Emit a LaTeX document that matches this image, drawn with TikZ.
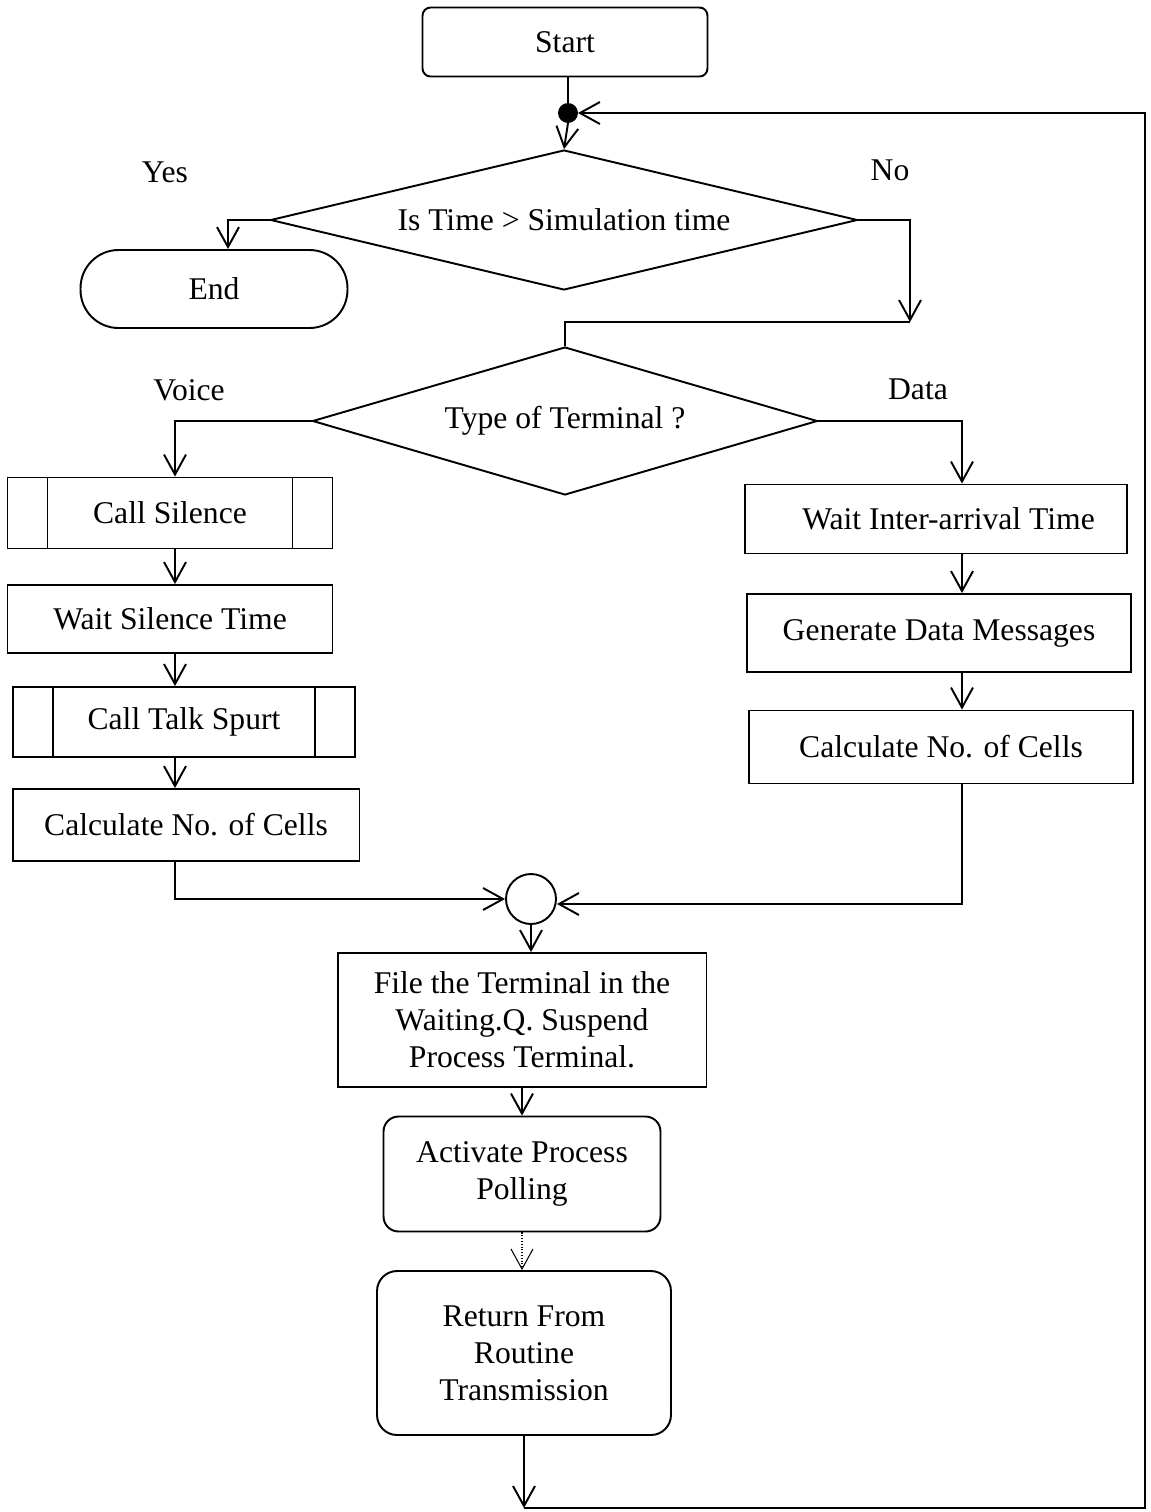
\documentclass[tikz,border=0pt]{standalone}
\usepackage{fontspec}
\setmainfont{Liberation Serif}
\usetikzlibrary{shapes.geometric,arrows.meta,positioning,calc}

\begin{document}
\begin{tikzpicture}[
    x=0.02cm, y=-0.02cm,
    font=\fontsize{18}{21}\selectfont,
    line width=1.1pt,
    box/.style={draw, rectangle, align=center, inner sep=2pt},
    roundbox/.style={box, rounded corners=0.3cm},
    subproc/.style={box, path picture={
        \draw ([xshift=0.8cm]path picture bounding box.north west) -- ([xshift=0.8cm]path picture bounding box.south west);
        \draw ([xshift=-0.8cm]path picture bounding box.north east) -- ([xshift=-0.8cm]path picture bounding box.south east);}},
    decision/.style={draw, diamond, inner sep=0pt, align=center},
    terminal/.style={box, rounded corners=0.76cm},
    junction/.style={circle, draw, inner sep=0pt, minimum size=1cm},
    arr/.style={-{Straight Barb[length=0.4cm, width=0.44cm]}}
]
\useasboundingbox (0,0) rectangle (1151,1512);

\node[roundbox, rounded corners=0.16cm, minimum width=5.7cm, minimum height=1.38cm] (start) at (565,42) {Start};
\node[junction, fill=black, minimum size=0.36cm] (dot) at (568,113) {};
\node[decision, shape aspect=4.19, minimum width=11.74cm, minimum height=2.8cm] (time) at (564,220) {\raisebox{-0.08cm}{Is Time > Simulation time}};
\node[terminal, minimum width=5.34cm, minimum height=1.56cm] (end) at (214,289) {End};
\node[decision, shape aspect=3.41, minimum width=10.1cm, minimum height=2.96cm] (type) at (565,421) {\raisebox{-0.08cm}{Type of Terminal ?}};

% branch labels
\node (yes) at (165,172) {Yes};
\node (no) at (890,170) {No};
\node (voice) at (189,390) {Voice};
\node (data) at (918,389) {Data};

% voice branch
\node[subproc, minimum width=6.5cm, minimum height=1.42cm] (callsil) at (170,513) {Call Silence};
\node[box, minimum width=6.5cm, minimum height=1.36cm] (waitsil) at (170,619) {Wait Silence Time};
\node[subproc, minimum width=6.84cm, minimum height=1.4cm] (calltalk) at (184,722) {Call Talk Spurt};
\node[box, minimum width=6.94cm, minimum height=1.44cm] (calcv) at (186,825) {Calculate No. of Cells};

% data branch
\node[box, minimum width=7.64cm, minimum height=1.38cm] (waitia) at (936,519) {\hspace{0.5cm}Wait Inter-arrival Time};
\node[box, minimum width=7.68cm, minimum height=1.56cm] (gendata) at (939,633) {Generate Data Messages};
\node[box, minimum width=7.68cm, minimum height=1.46cm] (calcd) at (941,747) {Calculate No. of Cells};

\node[junction] (merge) at (531,899) {};
\node[box, minimum width=7.38cm, minimum height=2.68cm] (file) at (522,1020) {File the Terminal in the\\Waiting.Q. Suspend\\Process Terminal.};
\node[roundbox, minimum width=5.54cm, minimum height=2.3cm] (activate) at (522,1174) {\raisebox{0.12cm}{\begin{tabular}{@{}c@{}}Activate Process\\Polling\end{tabular}}};
\node[roundbox, rounded corners=0.4cm, minimum width=5.88cm, minimum height=3.28cm] (ret) at (524,1353) {Return From\\Routine\\Transmission};

\coordinate (nocol) at (910,322);
\coordinate (vcol) at (175,0);
\coordinate (dcol) at (962,0);
\coordinate (loopr) at (1145,1508);
\coordinate (botc) at (ret.south |- loopr);

\draw (dot |- start.south) -- (dot.north);
\draw[arr] (dot.south) -- (time.north);
\draw[arr] (time.west) -| ($(end.north)+(14,0)$);
\draw[arr] (time.east) -| (nocol);
\draw (nocol) -| (type.north);

\draw[arr] (type.west) -| (vcol |- callsil.north);
\draw[arr] (vcol |- callsil.south) -- (vcol |- waitsil.north);
\draw[arr] (vcol |- waitsil.south) -- (vcol |- calltalk.north);
\draw[arr] (vcol |- calltalk.south) -- (vcol |- calcv.north);
\draw[arr] (vcol |- calcv.south) |- (merge.west);

\draw[arr] (type.east) -| (dcol |- waitia.north);
\draw[arr] (dcol |- waitia.south) -- (dcol |- gendata.north);
\draw[arr] (dcol |- gendata.south) -- (dcol |- calcd.north);
\draw[arr] (dcol |- calcd.south) |- ($(merge.east)+(0,5)$);

\draw[arr] (merge.south) -- (merge.south |- file.north);
\draw[arr] (file.south) -- (activate.north);
\draw[arr, densely dotted, line width=0.6pt] (activate.south) -- (activate.south |- ret.north);
\draw[arr] (ret.south) -- (botc);
\draw[arr] (botc) -- (loopr) |- (dot.east);
\end{tikzpicture}
\end{document}
